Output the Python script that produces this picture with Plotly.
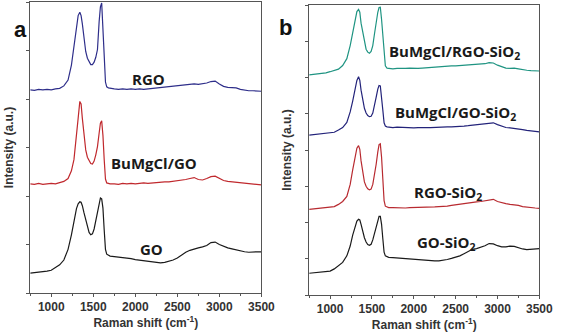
import plotly.graph_objects as go

# Raman shift sampling (cm-1), shared by all spectra
raman_shift = [750, 800, 850, 900, 950, 1000, 1050, 1100, 1150, 1200,
               1240, 1270, 1300, 1320, 1340, 1355, 1370, 1390, 1410, 1430,
               1450, 1470, 1490, 1510, 1530, 1550, 1570, 1585, 1600, 1615,
               1630, 1645, 1660, 1680, 1700, 1750, 1800, 1850, 1900, 1950,
               2000, 2050, 2100, 2150, 2200, 2250, 2300, 2350, 2400, 2450,
               2500, 2550, 2600, 2650, 2700, 2750, 2800, 2850, 2900, 2950,
               3000, 3050, 3100, 3150, 3200, 3250, 3300, 3350, 3400, 3450, 3500]

# Panel a (offset intensities, a.u.)
rgo = [4.19, 4.18, 4.20, 4.19, 4.20, 4.19, 4.21, 4.22, 4.27, 4.39,
       4.70, 5.10, 5.55, 5.72, 5.79, 5.72, 5.55, 5.20, 4.98, 4.84,
       4.76, 4.71, 4.71, 4.76, 4.86, 5.02, 5.60, 5.90, 5.98, 5.55,
       4.90, 4.35, 4.25, 4.23, 4.22, 4.21, 4.20, 4.21, 4.20, 4.21,
       4.20, 4.21, 4.20, 4.21, 4.22, 4.22, 4.23, 4.24, 4.25, 4.27,
       4.28, 4.29, 4.30, 4.30, 4.31, 4.30, 4.31, 4.33, 4.36, 4.37,
       4.31, 4.26, 4.24, 4.24, 4.23, 4.20, 4.18, 4.17, 4.17, 4.16, 4.16]
bumgcl_go = [2.25, 2.24, 2.26, 2.24, 2.25, 2.26, 2.25, 2.27, 2.30, 2.36,
             2.52, 2.75, 3.20, 3.60, 3.95, 3.90, 3.60, 3.20, 2.95, 2.80,
             2.72, 2.67, 2.66, 2.72, 2.85, 3.02, 3.30, 3.50, 3.55, 3.25,
             2.75, 2.35, 2.27, 2.26, 2.25, 2.25, 2.24, 2.26, 2.25, 2.26,
             2.25, 2.26, 2.27, 2.26, 2.27, 2.28, 2.28, 2.29, 2.29, 2.30,
             2.31, 2.32, 2.34, 2.36, 2.38, 2.34, 2.33, 2.36, 2.40, 2.41,
             2.36, 2.32, 2.30, 2.29, 2.28, 2.27, 2.26, 2.25, 2.24, 2.24, 2.23]
go_a = [0.41, 0.42, 0.42, 0.43, 0.45, 0.47, 0.52, 0.58, 0.68, 0.90,
        1.20, 1.50, 1.74, 1.84, 1.88, 1.87, 1.80, 1.65, 1.50, 1.35,
        1.25, 1.20, 1.22, 1.32, 1.50, 1.72, 1.90, 1.96, 1.94, 1.75,
        1.30, 0.90, 0.80, 0.77, 0.76, 0.75, 0.74, 0.74, 0.72, 0.71,
        0.69, 0.68, 0.67, 0.66, 0.64, 0.63, 0.62, 0.63, 0.65, 0.68,
        0.72, 0.78, 0.84, 0.88, 0.91, 0.93, 0.95, 0.98, 1.04, 1.05,
        1.00, 0.96, 0.93, 0.91, 0.89, 0.86, 0.85, 0.84, 0.85, 0.85, 0.85]

# Panel b (offset intensities, a.u.)
bumgcl_rgo_sio2 = [6.07, 6.08, 6.10, 6.11, 6.13, 6.16, 6.19, 6.23, 6.33, 6.52,
                   6.88, 7.25, 7.65, 7.82, 7.88, 7.80, 7.50, 7.22, 6.95, 6.78,
                   6.70, 6.67, 6.72, 6.88, 7.20, 7.55, 7.80, 7.93, 7.94, 7.60,
                   7.10, 6.55, 6.32, 6.26, 6.25, 6.24, 6.25, 6.24, 6.25, 6.26,
                   6.25, 6.25, 6.26, 6.27, 6.27, 6.28, 6.29, 6.30, 6.31, 6.32,
                   6.32, 6.33, 6.34, 6.33, 6.34, 6.35, 6.36, 6.38, 6.41, 6.40,
                   6.34, 6.29, 6.26, 6.25, 6.26, 6.24, 6.21, 6.20, 6.19, 6.18, 6.18]
bumgcl_go_sio2 = [4.41, 4.42, 4.43, 4.44, 4.45, 4.46, 4.49, 4.55, 4.62, 4.76,
                  5.05, 5.35, 5.72, 5.92, 6.02, 5.92, 5.65, 5.35, 5.15, 5.02,
                  4.95, 4.92, 4.93, 5.02, 5.20, 5.45, 5.68, 5.78, 5.77, 5.50,
                  5.10, 4.75, 4.66, 4.64, 4.63, 4.62, 4.63, 4.62, 4.63, 4.62,
                  4.61, 4.62, 4.61, 4.62, 4.62, 4.63, 4.63, 4.63, 4.64, 4.64,
                  4.64, 4.65, 4.66, 4.67, 4.68, 4.69, 4.70, 4.72, 4.74, 4.75,
                  4.70, 4.66, 4.62, 4.61, 4.60, 4.58, 4.56, 4.54, 4.52, 4.51, 4.50]
rgo_sio2 = [2.36, 2.37, 2.38, 2.39, 2.40, 2.41, 2.44, 2.50, 2.58, 2.72,
            3.05, 3.45, 3.85, 4.05, 4.12, 4.02, 3.70, 3.40, 3.12, 3.00,
            2.93, 2.90, 2.92, 3.05, 3.30, 3.60, 3.95, 4.15, 4.17, 3.80,
            3.20, 2.60, 2.45, 2.42, 2.41, 2.41, 2.40, 2.41, 2.40, 2.41,
            2.41, 2.42, 2.41, 2.42, 2.43, 2.43, 2.44, 2.44, 2.45, 2.47,
            2.49, 2.51, 2.53, 2.54, 2.56, 2.57, 2.58, 2.60, 2.64, 2.64,
            2.58, 2.54, 2.52, 2.50, 2.49, 2.47, 2.44, 2.42, 2.41, 2.40, 2.39]
go_sio2 = [0.60, 0.61, 0.62, 0.63, 0.64, 0.66, 0.72, 0.80, 0.90, 1.08,
           1.35, 1.65, 1.92, 2.04, 2.09, 2.07, 1.95, 1.75, 1.58, 1.46,
           1.39, 1.37, 1.40, 1.52, 1.70, 1.90, 2.08, 2.17, 2.17, 1.95,
           1.55, 1.18, 1.08, 1.05, 1.04, 1.03, 1.02, 1.01, 1.00, 0.99,
           0.98, 0.97, 0.96, 0.95, 0.95, 0.94, 0.94, 0.95, 0.98, 1.01,
           1.04, 1.08, 1.14, 1.20, 1.26, 1.28, 1.31, 1.36, 1.42, 1.41,
           1.36, 1.33, 1.33, 1.35, 1.34, 1.30, 1.27, 1.25, 1.26, 1.27, 1.28]

x_ticks = [1000, 1500, 2000, 2500, 3000, 3500]

series_a = [("RGO", rgo, "#2e2e8a", 2154, 4.41),
            ("BuMgCl/GO", bumgcl_go, "#c0282d", 2224, 2.68),
            ("GO", go_a, "#1a1a1a", 2189, 0.91)]
series_b = [("BuMgCl/RGO-SiO<sub>2</sub>", bumgcl_rgo_sio2, "#1f9482", 2486, 6.70),
            ("BuMgCl/GO-SiO<sub>2</sub>", bumgcl_go_sio2, "#23237a", 2498, 5.02),
            ("RGO-SiO<sub>2</sub>", rgo_sio2, "#b82a30", 2405, 2.81),
            ("GO-SiO<sub>2</sub>", go_sio2, "#1a1a1a", 2381, 1.43)]

fig = go.Figure()
annotations = []
for name, ys, col, lx, ly in series_a:
    fig.add_trace(go.Scatter(x=raman_shift, y=ys, mode="lines", line=dict(color=col, width=1.2),
                             xaxis="x", yaxis="y", showlegend=False))
    annotations.append(dict(x=lx, y=ly, xref="x", yref="y", text="<b>%s</b>" % name, showarrow=False,
                            font=dict(family="Open Sans", size=15, color="#1a1a1a")))
for name, ys, col, lx, ly in series_b:
    fig.add_trace(go.Scatter(x=raman_shift, y=ys, mode="lines", line=dict(color=col, width=1.2),
                             xaxis="x2", yaxis="y2", showlegend=False))
    annotations.append(dict(x=lx, y=ly, xref="x2", yref="y2", text="<b>%s</b>" % name, showarrow=False,
                            font=dict(family="Open Sans", size=15, color="#1a1a1a")))

annotations.append(dict(x=12 / 567, y=1 - 15 / 332, xref="paper", yref="paper", text="<b>a</b>",
                        showarrow=False, font=dict(family="Liberation Sans", size=22, color="#111")))
annotations.append(dict(x=293 / 567, y=1 - 13 / 332, xref="paper", yref="paper", text="<b>b</b>",
                        showarrow=False, font=dict(family="Liberation Sans", size=22, color="#111")))

axis_font = dict(family="Liberation Sans", size=12, color="#333", weight="bold")
title_font = dict(family="Liberation Sans", size=12, color="#333", weight="bold")

def xaxis(domain, anchor):
    return dict(domain=domain, anchor=anchor, range=[750, 3500], tickvals=x_ticks,
                ticks="outside", ticklen=3, tickcolor="#555", showline=True, linecolor="#555",
                linewidth=1, mirror=True, showgrid=False, zeroline=False, tickfont=axis_font,
                minor=dict(dtick=250, tick0=1000, ticks="outside", ticklen=2, tickcolor="#555"),
                title=dict(text="Raman shift (cm<sup>-1</sup>)", font=title_font, standoff=3))

def yaxis(domain, anchor, top):
    return dict(domain=domain, anchor=anchor, range=[0, top], dtick=1, showticklabels=False,
                ticks="outside", ticklen=3, tickcolor="#555", showline=True, linecolor="#555",
                linewidth=1, mirror=True, showgrid=False, zeroline=False,
                title=dict(text="Intensity (a.u.)", font=title_font, standoff=10))

fig.update_layout(
    width=567, height=332, margin=dict(l=0, r=0, t=0, b=0),
    paper_bgcolor="white", plot_bgcolor="white",
    xaxis=xaxis([31 / 567, 268 / 567], "y"),
    yaxis=yaxis([39 / 332, 330 / 332], "x", 6),
    xaxis2=xaxis([317 / 567, 553 / 567], "y2"),
    yaxis2=yaxis([37 / 332, 327 / 332], "x2", 8),
    annotations=annotations,
)
fig.write_html("out.html")
